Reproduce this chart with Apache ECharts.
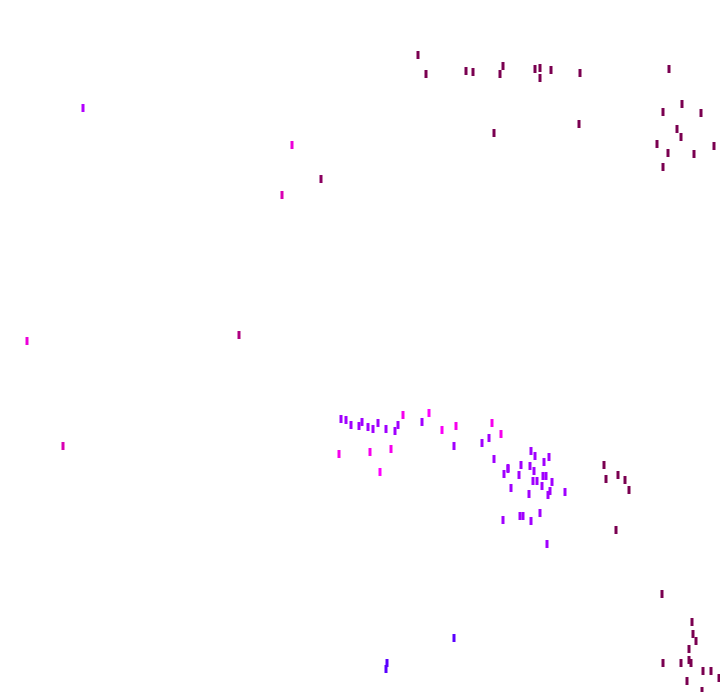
<!DOCTYPE html>
<html><head><meta charset="utf-8">
<script src="https://cdn.jsdelivr.net/npm/echarts@6/dist/echarts.min.js"></script>
<style>html,body{margin:0;padding:0;background:#fff}#c{width:720px;height:692px}</style>
</head><body><div id="c"></div>
<script>
// x, y positions (pixel-like data units) and a colour index per point
const xs = [418,426,466,473,500,503,535,540,540,551,580,669,494,579,
  682,663,701,677,681,657,714,668,694,663,
  83,292,321,282,27,239,63,
  341,346,351,362,359,368,373,378,386,395,398,403,422,429,442,456,492,501,482,489,454,494,508,339,370,391,380,
  531,535,549,544,521,530,508,504,519,534,543,546,537,533,552,542,511,550,548,529,565,540,520,523,503,531,547,
  604,606,618,625,629,616,
  662,692,693,696,689,689,691,663,681,703,711,719,687,702,
  454,387,386];
const ys = [55,74,71,72,74,66,69,78,68,70,73,69,133,124,
  104,112,113,129,137,144,146,153,154,167,
  108,145,179,195,341,335,446,
  419,420,425,422,426,427,429,423,429,431,425,415,422,413,430,426,423,434,443,438,446,459,468,454,452,449,472,
  451,456,457,462,465,466,469,474,475,471,476,476,481,481,482,486,488,491,495,494,492,513,516,516,520,521,544,
  465,479,475,480,490,530,
  594,622,634,641,649,660,663,663,663,671,671,678,681,691,
  638,663,669];
const tones = [4,4,4,4,4,4,4,4,4,4,4,4,4,4,
  4,4,4,4,4,4,4,4,4,4,
  1.2,2.4,3.8,2.8,2.4,3.4,2.8,
  1,1,1,1,1,1,1,1,1,1,1,2.2,1,2,2.1,2.2,2.2,2.2,1,1,1,1,1,2.2,2.2,2.2,2,
  1,1,1,1,1,1,1,1,1,1,1,1,1,1,1,1,1,1,1,1,1,1,1,1,1,1,1,
  4,4,4,4,4,4,
  4,4,4,4,4,4,4,4,4,4,4,4,4,4,
  0,0,0];
const points = xs.map((x, i) => [x, ys[i], tones[i]]);

const chart = echarts.init(document.getElementById('c'));
chart.setOption({
  animation: false,
  backgroundColor: '#ffffff',
  grid: {left: 0, right: 0, top: 0, bottom: 0},
  xAxis: {type: 'value', min: 0, max: 720, show: false},
  yAxis: {type: 'value', min: 0, max: 692, inverse: true, show: false},
  visualMap: {
    show: false, type: 'continuous', dimension: 2, min: 0, max: 4,
    inRange: {color: ['#5a00ff', '#a000ff', '#ff00ff', '#d000a0', '#7a0050']}
  },
  series: [{
    type: 'scatter',
    data: points,
    symbol: 'rect',
    symbolSize: [3, 8],
    itemStyle: {opacity: 1}
  }]
});
</script>
</body></html>
